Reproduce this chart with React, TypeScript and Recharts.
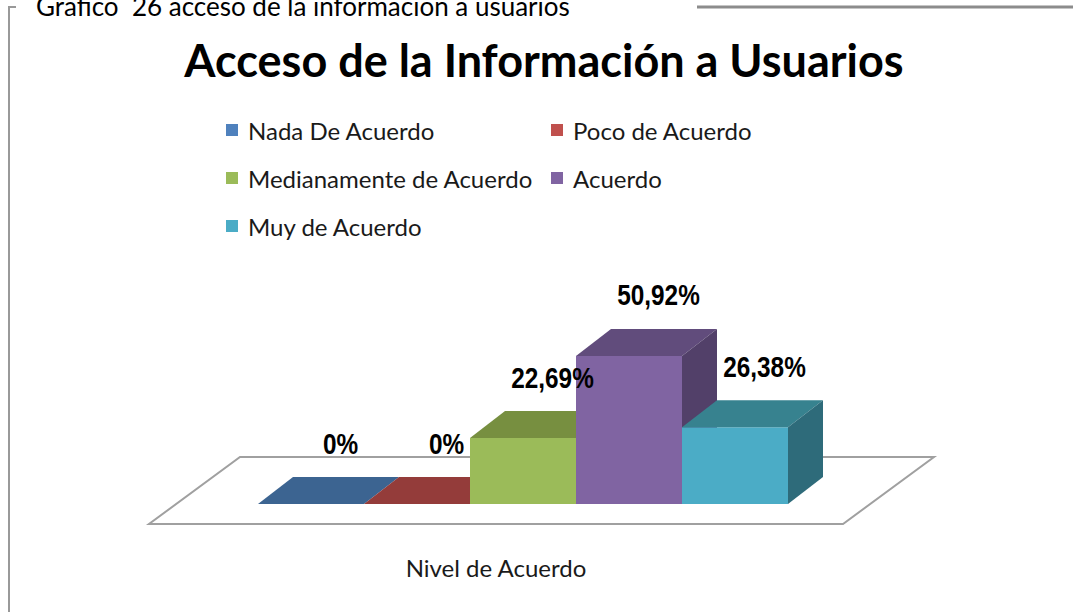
import { BarChart, Bar, XAxis, YAxis, Legend, LabelList, ReferenceArea } from "recharts"

const categories = ["Nivel de Acuerdo"]
const seriesKeys = ["nada", "poco", "mediana", "acuerdo", "muy"]
const seriesNames = [
  "Nada De Acuerdo",
  "Poco de Acuerdo",
  "Medianamente de Acuerdo",
  "Acuerdo",
  "Muy de Acuerdo",
]
const seriesValues = [0, 0, 22.69, 50.92, 26.38]

const chartTitle = "Acceso de la Información a Usuarios"
const caption = "Gráfico  26 acceso de la información a usuarios"

// face colours per series: front, top, side
const FRONT = ["#4f81bd", "#c0504d", "#9bbb59", "#8064a2", "#4bacc6"]
const TOP = ["#3c6491", "#943c3a", "#778f40", "#614c7c", "#37828f"]
const SIDE = ["#30507a", "#7a3230", "#637836", "#524069", "#2e6b7a"]

// 3d offsets (half depth), bars and floor
const BAR_DX = 17.5
const BAR_DY = 13.5
const FLOOR_DX = 45.5
const FLOOR_DY = 33.5

const data = categories.map((c) => {
  const row: Record<string, string | number> = { nivel: c }
  seriesKeys.forEach((k, i) => {
    row[k] = seriesValues[i]
  })
  return row
})

function Box3D(props: any) {
  const { x, y, width: w, height: h, idx } = props
  const fx = x - BAR_DX
  const fy = y + BAR_DY
  const bx = x + BAR_DX
  const by = y - BAR_DY
  return (
    <g>
      {h > 0 && <rect x={fx} y={fy} width={w} height={h} fill={FRONT[idx]} />}
      <polygon
        points={`${fx},${fy} ${fx + w},${fy} ${bx + w},${by} ${bx},${by}`}
        fill={TOP[idx]}
      />
      {h > 0 && (
        <polygon
          points={`${fx + w},${fy} ${bx + w},${by} ${bx + w},${by + h} ${fx + w},${fy + h}`}
          fill={SIDE[idx]}
        />
      )}
    </g>
  )
}

function Floor(props: any) {
  const { x, y, width: w, height: h } = props
  const yb = y + (h || 0)
  const pts = [
    [x - FLOOR_DX, yb + FLOOR_DY],
    [x + w - FLOOR_DX, yb + FLOOR_DY],
    [x + w + FLOOR_DX, yb - FLOOR_DY],
    [x + FLOOR_DX, yb - FLOOR_DY],
  ]
  return (
    <polygon
      points={pts.map((p) => p.join(",")).join(" ")}
      fill="#fff"
      stroke="#a0a0a0"
      strokeWidth={2}
    />
  )
}

function formatPct(v: number) {
  if (v === 0) return "0%"
  return v.toFixed(2).replace(".", ",") + "%"
}

function renderLabel(props: any) {
  const vb = props.viewBox || props
  const { x, y, width } = vb
  const cx = x + width / 2 + 12
  const base = y - 37
  return (
    <text
      x={0}
      y={0}
      transform={`translate(${cx},${base}) scale(0.84,1)`}
      textAnchor="middle"
      fontFamily="'Liberation Sans', Arial, sans-serif"
      fontWeight="bold"
      fontSize={29}
      fill="#000"
    >
      {formatPct(Number(props.value))}
    </text>
  )
}

function renderLegend(props: any) {
  const payload = [...(props.payload || [])].sort(
    (a: any, b: any) => seriesNames.indexOf(a.value) - seriesNames.indexOf(b.value)
  )
  return (
    <div
      style={{
        display: "grid",
        gridTemplateColumns: "325px 220px",
        fontFamily: "Lato, sans-serif",
        fontSize: 24,
        color: "#1a1a1a",
        whiteSpace: "nowrap",
      }}
    >
      {payload.map((e: any) => (
        <div key={e.value} style={{ display: "flex", alignItems: "center", height: 48 }}>
          <span
            style={{
              width: 12,
              height: 12,
              background: e.color,
              marginRight: 10,
              display: "inline-block",
              flex: "none",
            }}
          />
          <span>{e.value}</span>
        </div>
      ))}
    </div>
  )
}

function AxisTick(props: any) {
  const { x, y, payload } = props
  return (
    <text
      x={x - FLOOR_DX}
      y={y + 86}
      textAnchor="middle"
      fontFamily="Lato, sans-serif"
      fontSize={24}
      fill="#1a1a1a"
    >
      {payload.value}
    </text>
  )
}

export default function App() {
  return (
    <div style={{ position: "absolute", left: 0, top: 0, width: 1074, height: 612, background: "#fff" }}>
      <BarChart
        width={1074}
        height={612}
        data={data}
        margin={{ top: 316, right: 185.5, bottom: 91.5, left: 194.5 }}
        barCategoryGap={81}
        barGap={0}
      >
        <XAxis
          dataKey="nivel"
          height={30}
          axisLine={false}
          tickLine={false}
          tickSize={0}
          tickMargin={0}
          tick={(p: any) => <AxisTick {...p} />}
        />
        <YAxis hide width={0} domain={[0, 60]} />
        <ReferenceArea y1={0} y2={0} ifOverflow="visible" shape={(p: any) => <Floor {...p} />} />
        <Legend
          layout="horizontal"
          verticalAlign="middle"
          align="center"
          content={renderLegend}
          wrapperStyle={{ left: 226, top: 106, width: 560 }}
        />
        {seriesKeys.map((k, i) => (
          <Bar
            key={k}
            dataKey={k}
            name={seriesNames[i]}
            fill={FRONT[i]}
            isAnimationActive={false}
            shape={(p: any) => <Box3D {...p} idx={i} />}
          >
            <LabelList dataKey={k} content={renderLabel} />
          </Bar>
        ))}
      </BarChart>
      <svg
        width={1074}
        height={612}
        style={{ position: "absolute", left: 0, top: 0, pointerEvents: "none" }}
      >
        <polyline points="16,7 9,7 9,612" fill="none" stroke="#999" strokeWidth={2} />
        <line x1={697} y1={7} x2={1073} y2={7} stroke="#8c8c8c" strokeWidth={3} />
        <text x={36} y={16} fontFamily="Lato, sans-serif" fontSize={26} fill="#000" style={{ whiteSpace: "pre" }}>
          {caption}
        </text>
        <text
          x={544}
          y={77}
          textAnchor="middle"
          fontFamily="Lato, sans-serif"
          fontWeight="bold"
          fontSize={45}
          fill="#000"
        >
          {chartTitle}
        </text>
      </svg>
    </div>
  )
}
